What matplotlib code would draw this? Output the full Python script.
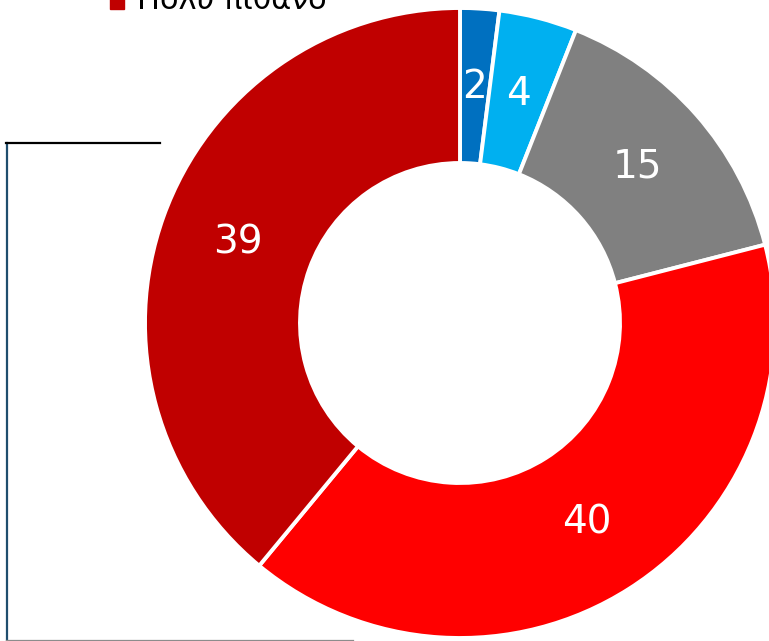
import matplotlib
matplotlib.use("Agg")
from matplotlib import pyplot as plt
from matplotlib.lines import Line2D
from matplotlib.patches import Rectangle

categories = ["Καθόλου πιθανό", "Μάλλον απίθανο", "ΔΓ/ΔΑ", "Μάλλον πιθανό", "Πολύ πιθανό"]
values = [2, 4, 15, 40, 39]
colors = ["#0070C0", "#00B0F0", "#808080", "#FF0000", "#C00000"]
legend_label = categories[-1]

W, H = 769, 641
fig = plt.figure(figsize=(W / 100, H / 100), dpi=100)
ax = fig.add_axes([0, 0, 1, 1])

# donut, starts at 12 o'clock and runs clockwise
wedges, texts = ax.pie(values, colors=colors, startangle=90, counterclock=False,
                       radius=315, center=(460, H - 323),
                       labels=[str(v) for v in values], labeldistance=0.75,
                       wedgeprops=dict(width=155, edgecolor="white", linewidth=2.8),
                       textprops=dict(color="white", fontsize=28, family="DejaVu Sans",
                                      ha="center", va="center"))
ax.set_xlim(0, W)
ax.set_ylim(0, H)
ax.set_aspect("equal")
ax.axis("off")

# legend entry cut by the top edge
fig.add_artist(Rectangle((110 / W, 1 - 9 / H), 14 / W, 12 / H, transform=fig.transFigure,
                         color="#C00000", clip_on=False))
fig.text(137 / W, 1 - 9 / H, legend_label, fontsize=22, color="black",
         family="DejaVu Sans", ha="left", va="baseline")

# frame lines of a neighbouring element
fig.add_artist(Line2D([6.5 / W, 6.5 / W], [0, 1 - 143 / H], color="#1F4E6E", lw=1.6))
fig.add_artist(Line2D([6 / W, 160 / W], [1 - 143 / H, 1 - 143 / H], color="black", lw=1.6))
fig.add_artist(Line2D([6 / W, 353 / W], [1 - 639.5 / H, 1 - 639.5 / H], color="#8C8C8C", lw=0.9))

plt.savefig("out.png", dpi=100)
